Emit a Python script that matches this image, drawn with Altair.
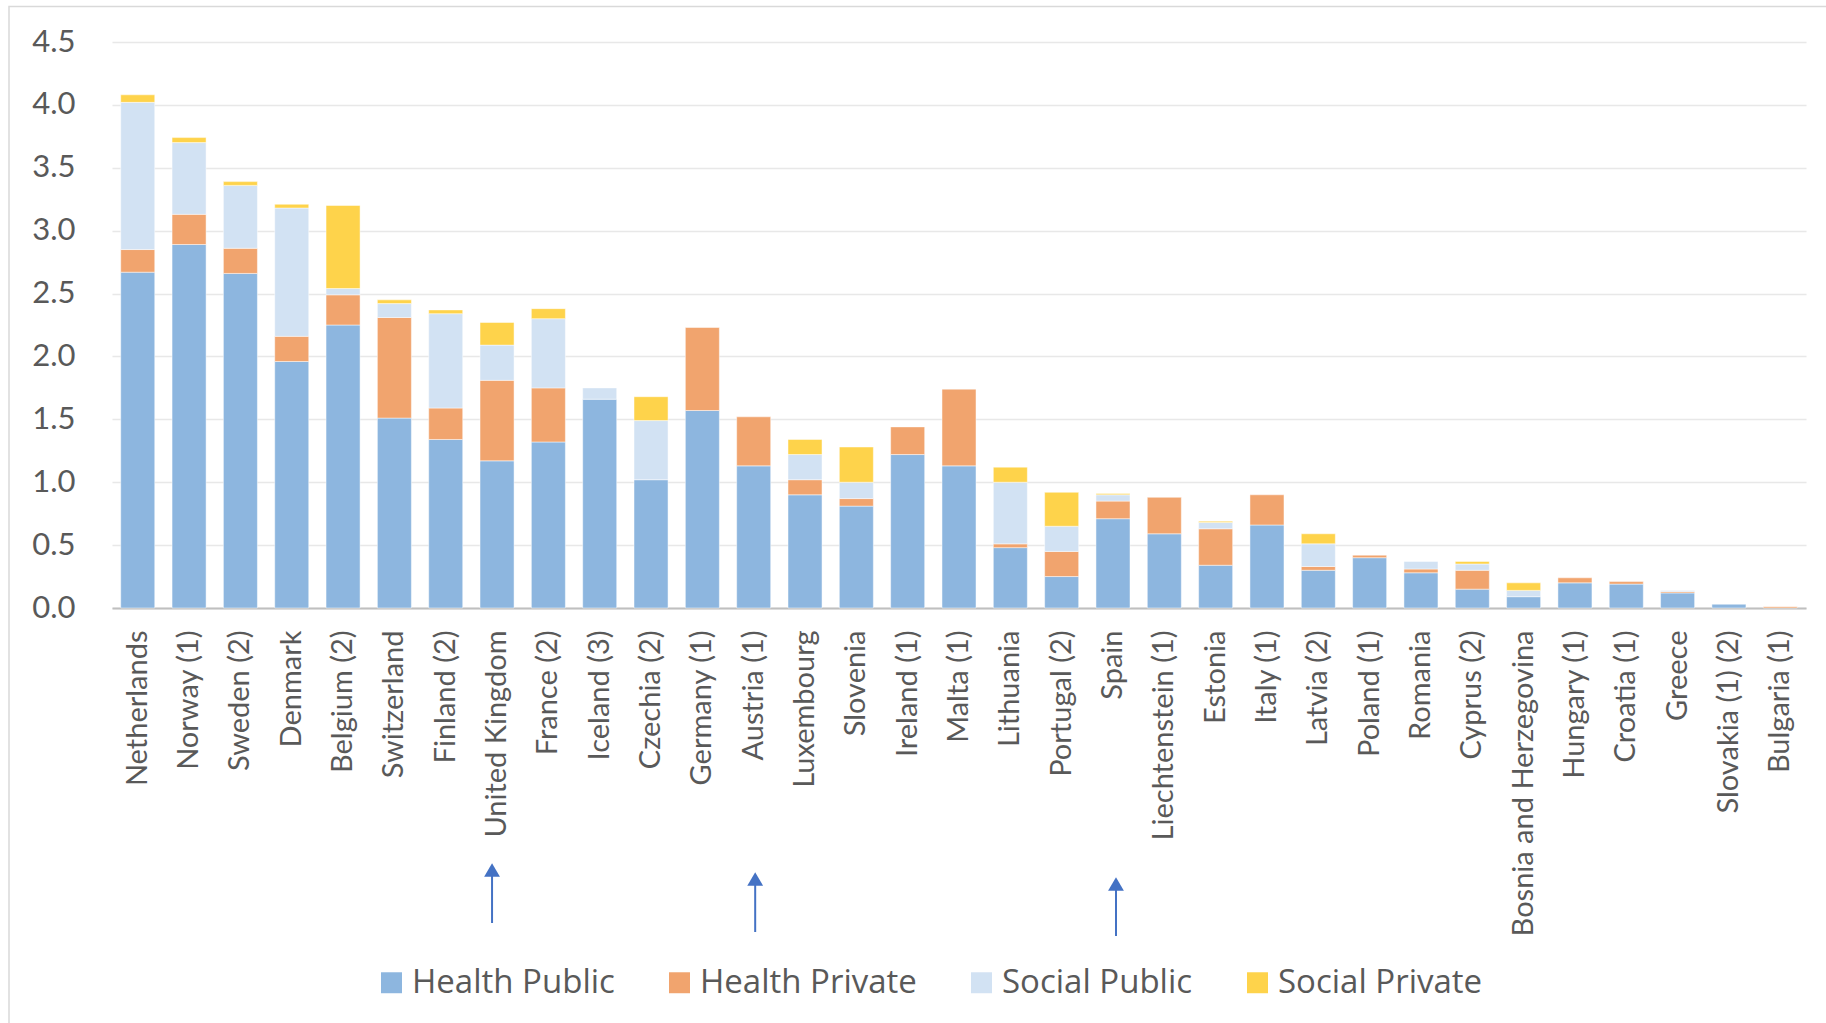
import altair as alt
import pandas as pd

# Countries in display order (sorted by total spending)
countries = [
    "Netherlands", "Norway (1)", "Sweden (2)", "Denmark", "Belgium (2)",
    "Switzerland", "Finland (2)", "United Kingdom", "France (2)", "Iceland (3)",
    "Czechia (2)", "Germany (1)", "Austria (1)", "Luxembourg", "Slovenia",
    "Ireland (1)", "Malta (1)", "Lithuania", "Portugal (2)", "Spain",
    "Liechtenstein (1)", "Estonia", "Italy (1)", "Latvia (2)", "Poland (1)",
    "Romania", "Cyprus (2)", "Bosnia and Herzegovina", "Hungary (1)",
    "Croatia (1)", "Greece", "Slovakia (1) (2)", "Bulgaria (1)",
]

health_public = [2.67, 2.89, 2.66, 1.96, 2.25, 1.51, 1.34, 1.17, 1.32, 1.66,
                 1.02, 1.57, 1.13, 0.90, 0.81, 1.22, 1.13, 0.48, 0.25, 0.71,
                 0.59, 0.34, 0.66, 0.30, 0.40, 0.28, 0.15, 0.09, 0.20, 0.19,
                 0.12, 0.03, 0.00]
health_private = [0.18, 0.24, 0.20, 0.20, 0.24, 0.80, 0.25, 0.64, 0.43, 0.00,
                  0.00, 0.66, 0.39, 0.12, 0.06, 0.22, 0.61, 0.03, 0.20, 0.14,
                  0.29, 0.29, 0.24, 0.03, 0.02, 0.03, 0.15, 0.00, 0.04, 0.02,
                  0.01, 0.00, 0.01]
social_public = [1.17, 0.57, 0.50, 1.02, 0.05, 0.11, 0.75, 0.28, 0.55, 0.09,
                 0.47, 0.00, 0.00, 0.20, 0.13, 0.00, 0.00, 0.49, 0.20, 0.05,
                 0.00, 0.05, 0.00, 0.18, 0.00, 0.06, 0.05, 0.05, 0.00, 0.00,
                 0.01, 0.00, 0.00]
social_private = [0.06, 0.04, 0.03, 0.03, 0.66, 0.03, 0.03, 0.18, 0.08, 0.00,
                  0.19, 0.00, 0.00, 0.12, 0.28, 0.00, 0.00, 0.12, 0.27, 0.01,
                  0.00, 0.01, 0.00, 0.08, 0.00, 0.00, 0.02, 0.06, 0.00, 0.00,
                  0.00, 0.00, 0.00]

series = ["Health Public", "Health Private", "Social Public", "Social Private"]
series_colors = ["#8DB6DF", "#F1A46E", "#D2E2F3", "#FED34B"]
y_ticks = [0.0, 0.5, 1.0, 1.5, 2.0, 2.5, 3.0, 3.5, 4.0, 4.5]

# Countries marked with an arrow below the axis labels
arrow_countries = ["United Kingdom", "Austria (1)", "Spain"]

FONT = "Lato"
TEXT = "#595959"
ARROW = "#4472C4"

rows = []
for k, (name, vals) in enumerate(zip(series, [health_public, health_private,
                                               social_public, social_private])):
    for c, v in zip(countries, vals):
        rows.append({"country": c, "series": name, "stack_order": k, "value": v})
df = pd.DataFrame(rows)

x_scale = alt.Scale(domain=countries, paddingInner=0.337, paddingOuter=0.17)
x_axis = alt.Axis(
    title=None, labelAngle=270, labelPadding=22, labelFont=FONT,
    labelFontSize=29, labelColor=TEXT, labelLimit=500, ticks=False,
    domainColor="#BFBFBF", domainWidth=2, grid=False,
)
x_enc = alt.X("country:N", scale=x_scale, axis=x_axis)

bars = (
    alt.Chart(df)
    .transform_filter("datum.value > 0")
    .mark_bar(stroke="white", strokeWidth=0.8, strokeOpacity=0.6)
    .encode(
        x=x_enc,
        y=alt.Y(
            "value:Q", stack="zero",
            scale=alt.Scale(domain=[0, 4.5], nice=False),
            axis=alt.Axis(
                title=None, values=y_ticks, format=".1f", labelFont=FONT,
                labelFontSize=31, labelColor=TEXT, labelPadding=37,
                ticks=False, domain=False, gridColor="#E8E8E8", gridWidth=1.3,
            ),
        ),
        color=alt.Color(
            "series:N",
            scale=alt.Scale(domain=series, range=series_colors),
            legend=alt.Legend(
                title=None, orient="none", legendX=263, legendY=924,
                direction="horizontal", symbolType="square", symbolSize=440,
                symbolStrokeWidth=0, symbolOpacity=1, labelFont="Open Sans",
                labelFontSize=33, labelColor=TEXT, labelOffset=4,
                labelLimit=500, columnPadding=48,
            ),
        ),
        order=alt.Order("stack_order:Q", sort="ascending"),
    )
)

# Light frame around the whole figure
frame = (
    alt.Chart(pd.DataFrame({"k": [0]}))
    .mark_rect(fill="transparent", stroke="#D9D9D9", strokeWidth=1.5)
    .encode(x=alt.value(-103), x2=alt.value(1730),
            y=alt.value(-35.5), y2=alt.value(1000))
)

# Upward arrows under selected countries: (head centre, shaft top, shaft bottom, x shift)
arrow_geom = [(828, 830, 881, -5), (837, 839, 890, 1.5), (842, 844, 894, 3)]
arrows = []
for c, (yc, y1, y2, dx) in zip(arrow_countries, arrow_geom):
    adf = pd.DataFrame({"country": [c]})
    arrows.append(
        alt.Chart(adf).mark_rule(color=ARROW, strokeWidth=2, xOffset=dx)
        .encode(x=x_enc, y=alt.value(y1), y2=alt.value(y2))
    )
    arrows.append(
        alt.Chart(adf).mark_point(shape="triangle-up", filled=True, size=250,
                                  color=ARROW, opacity=1, strokeWidth=0,
                                  xOffset=dx)
        .encode(x=x_enc, y=alt.value(yc))
    )

chart = (
    alt.layer(frame, bars, *arrows)
    .properties(
        width=1694, height=566,
        autosize=alt.AutoSizeParams(type="none"),
        padding={"left": 112, "top": 42, "right": 20, "bottom": 415},
        background="white",
    )
    .configure_view(strokeWidth=0)
)

chart.save("out.html", embed_options={"renderer": "svg", "actions": False})
